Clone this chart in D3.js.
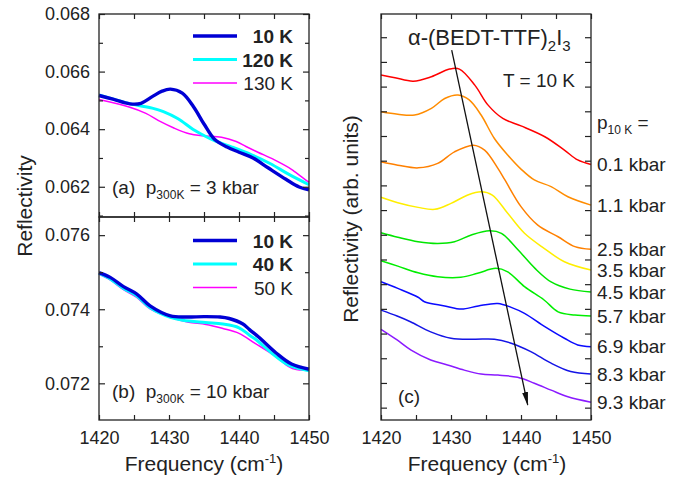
<!DOCTYPE html>
<html>
<head>
<meta charset="utf-8">
<script src="https://cdn.jsdelivr.net/npm/d3@7"></script>
<style>
  body { margin: 0; background: #fff; }
  svg text { font-family: "Liberation Sans", Arial, sans-serif; fill: #222; }
</style>
</head>
<body>
<div id="viz"></div>
<script>
const width = 685;
const height = 480;

// Frequency range shared by all panels (cm-1)
const freqDomain = [1420, 1450];
const freqTicks = [1420, 1425, 1430, 1435, 1440, 1445, 1450];

// Panel (a): p300K = 3 kbar
const aTicks = [0.062, 0.064, 0.066, 0.068];
const aMinor = [0.061, 0.063, 0.065, 0.067];
const a10K = [[1420, 0.06517], [1422, 0.06504], [1424.4, 0.06488], [1426, 0.06490], [1427.6, 0.06513], [1429, 0.06532],
  [1430.2, 0.06539], [1431.9, 0.06525], [1433.5, 0.06478], [1435, 0.06418], [1436.5, 0.06365], [1438.3, 0.06338],
  [1440, 0.06320], [1442, 0.06300], [1444.2, 0.06265], [1446.7, 0.06226], [1448.6, 0.06199], [1450, 0.06189]];
const a120K = [[1420, 0.06519], [1424.5, 0.06488], [1427.6, 0.06473], [1429.2, 0.06461], [1431.3, 0.06436],
  [1433.4, 0.06400], [1435, 0.06378], [1436.5, 0.06360], [1439, 0.06338], [1441.8, 0.06311], [1444.5, 0.06280],
  [1447.2, 0.06242], [1450, 0.06207]];
const a130K = [[1420, 0.06503], [1424.3, 0.06477], [1426.7, 0.06455], [1428.8, 0.06426], [1430.7, 0.06404],
  [1432.9, 0.06384], [1434.8, 0.06377], [1437.5, 0.06372], [1439.6, 0.06357], [1441, 0.06340], [1442.7, 0.06320],
  [1445, 0.06294], [1447.6, 0.06259], [1450, 0.06215]];

// Panel (b): p300K = 10 kbar
const bTicks = [0.072, 0.074, 0.076];
const bMinor = [0.073, 0.075];
const b10K = [[1420, 0.07499], [1421.6, 0.07486], [1423.5, 0.07461], [1425.4, 0.07441], [1427.3, 0.07409],
  [1430.2, 0.07382], [1432.5, 0.07379], [1435, 0.07380], [1437.3, 0.07379], [1438.6, 0.07375], [1440.5, 0.07361],
  [1441.5, 0.07345], [1442.8, 0.07325], [1445.3, 0.07282], [1447.5, 0.07252], [1450, 0.07238]];
const b40K = [[1420, 0.07497], [1421.6, 0.07482], [1423.5, 0.07456], [1425.4, 0.07436], [1427.3, 0.07404],
  [1430.2, 0.07378], [1432, 0.07370], [1435.2, 0.07364], [1437.7, 0.07360], [1440, 0.07350], [1441.5, 0.07330],
  [1442.5, 0.07317], [1444.7, 0.07281], [1447.1, 0.07249], [1450, 0.07234]];
const b50K = [[1420, 0.07494], [1421.6, 0.07479], [1423.5, 0.07453], [1425.4, 0.07432], [1427.3, 0.07401],
  [1430.5, 0.07376], [1432.8, 0.07365], [1435.3, 0.07359], [1437.7, 0.07348], [1440, 0.07335], [1442.3, 0.07308],
  [1445.3, 0.07272], [1447.1, 0.07245], [1448.2, 0.07237], [1450, 0.07236]];

const legendA = ['10 K', '120 K', '130 K'];
const legendB = ['10 K', '40 K', '50 K'];

// Panel (c): T = 10 K, pressure series (arb. units, offset)
const pressureLabels = ['0.1 kbar', '1.1 kbar', '2.5 kbar', '3.5 kbar', '4.5 kbar', '5.7 kbar', '6.9 kbar', '8.3 kbar', '9.3 kbar'];
const pressureColors = ['#ff0000', '#ff8c00', '#ff8000', '#ffee00', '#00e600', '#00ee00', '#0a0aff', '#1414e6', '#8a1aff'];
const c01 = [[1420, 13.97], [1422, 13.86], [1424.6, 13.72], [1427.2, 13.90], [1429.8, 14.21], [1431.2, 14.21], [1433.4, 13.56],
  [1435.3, 12.75], [1437.4, 12.21], [1440, 11.91], [1443.4, 11.47], [1446.2, 10.93], [1448.1, 10.53], [1450, 10.35]];
const c11 = [[1420, 12.48], [1422.4, 12.38], [1424.8, 12.35], [1427.2, 12.62], [1429.1, 13.02], [1431, 13.16], [1432.6, 12.96],
  [1434.3, 12.35], [1436.2, 11.40], [1438.1, 10.73], [1440, 10.16], [1441.9, 9.72], [1444.3, 9.45], [1446.7, 9.04], [1450, 8.70]];
const c25 = [[1420, 10.46], [1422.4, 10.32], [1425.3, 10.21], [1428.1, 10.39], [1430.5, 10.86], [1433.2, 11.13], [1434.8, 10.93],
  [1436.7, 10.19], [1437.7, 9.72], [1440, 8.64], [1442.4, 7.89], [1445.3, 7.42], [1447.7, 7.02], [1450, 6.91]];
const c35 = [[1420, 9.02], [1422.4, 8.80], [1425.3, 8.61], [1427.7, 8.53], [1430, 8.77], [1432.4, 9.11], [1434.3, 9.24],
  [1435.9, 9.11], [1438.1, 8.37], [1440.5, 7.56], [1443.3, 6.95], [1446.2, 6.41], [1450, 6.07]];
const c45 = [[1420, 7.58], [1422.4, 7.40], [1425.3, 7.22], [1428.1, 7.15], [1430.5, 7.22], [1432.9, 7.49], [1435.5, 7.66],
  [1437.2, 7.56], [1439.6, 6.88], [1442, 6.14], [1444.3, 5.59], [1447, 5.30], [1450, 5.18]];
const c57 = [[1420, 6.45], [1422.4, 6.23], [1425.3, 5.96], [1428.1, 5.80], [1431.4, 5.78], [1433.8, 5.94], [1436.4, 6.14],
  [1438.1, 6.00], [1440.5, 5.40], [1443.3, 4.86], [1445.3, 4.38], [1447.7, 4.25], [1450, 4.21]];
const c69 = [[1420, 5.60], [1422.4, 5.33], [1425.3, 4.97], [1426.2, 4.79], [1429.1, 4.62], [1431.5, 4.49], [1433.9, 4.62],
  [1436.7, 4.72], [1438.6, 4.56], [1440.5, 4.32], [1443.4, 3.78], [1446.2, 3.31], [1448.1, 3.04], [1450, 2.97]];
const c83 = [[1420, 4.45], [1422.3, 4.21], [1424.2, 3.98], [1427.1, 3.57], [1430, 3.31], [1433.3, 3.27], [1436.2, 3.27],
  [1438.6, 3.11], [1441.4, 2.77], [1444.3, 2.30], [1447.1, 1.96], [1450, 1.86]];
const c93 = [[1420, 3.67], [1422.3, 3.24], [1424.3, 2.83], [1427.1, 2.43], [1429.5, 2.23], [1431.9, 2.02], [1434.3, 1.86],
  [1436.7, 1.82], [1439.5, 1.73], [1441.9, 1.49], [1444.3, 1.21], [1446.7, 0.94], [1450, 0.72]];
const cTicks = d3.range(0.5, 16, 1);
const arrowPoints = [[1430.1, 14.98], [1440.96, 0.61]];

const leftColors = ['#0000d4', '#00ffff', '#ff00ff'];
const leftWidths = [3.4, 3, 1.5];

const svg = d3.select('#viz')
  .append('svg')
    .attr('width', width)
    .attr('height', height);

// Long, narrow filled arrowhead
svg.append('defs').append('marker')
    .attr('id', 'arrowhead')
    .attr('viewBox', '0 0 14 6')
    .attr('refX', 13).attr('refY', 3)
    .attr('markerWidth', 14).attr('markerHeight', 6)
    .attr('markerUnits', 'userSpaceOnUse')
    .attr('orient', 'auto')
  .append('path')
    .attr('d', 'M0,0 L14,3 L0,6 Z')
    .attr('fill', '#111');

// Scales
const xLeft = d3.scaleLinear().domain(freqDomain).range([99, 309]);
const yA = d3.scaleLinear().domain([0.06095, 0.068]).range([217, 14]);
const yB = d3.scaleLinear().domain([0.07101, 0.07649]).range([420, 217]);
const xRight = d3.scaleLinear().domain(freqDomain).range([381, 591]);
const yC = d3.scaleLinear().domain([0, 16.44]).range([420, 14]);

const tickFont = '18px';

// Draw inward ticks on all four sides of a panel
const drawFrame = (x, y, majorY, minorY, showXLabels, showYLabels) => {
  const [x0, x1] = x.range();
  const [yb, yt] = y.range();
  const g = svg.append('g');

  const fmtX = d => (showXLabels && d % 10 === 0) ? d : '';
  g.append('g')
      .attr('transform', `translate(0, ${yb})`)
      .style('font-size', tickFont)
    .call(d3.axisBottom(x).tickValues(freqTicks).tickSize(-5).tickPadding(11).tickFormat(fmtX));
  g.append('g')
      .attr('transform', `translate(0, ${yt})`)
    .call(d3.axisTop(x).tickValues(freqTicks).tickSize(-5).tickFormat(''));

  g.append('g')
      .attr('transform', `translate(${x0}, 0)`)
      .style('font-size', tickFont)
    .call(d3.axisLeft(y).tickValues(majorY).tickSize(-6).tickPadding(9)
      .tickFormat(showYLabels ? d3.format('.3f') : () => ''));
  g.append('g')
      .attr('transform', `translate(${x1}, 0)`)
    .call(d3.axisRight(y).tickValues(majorY).tickSize(-6).tickFormat(''));
  if (minorY.length) {
    g.append('g')
        .attr('transform', `translate(${x0}, 0)`)
      .call(d3.axisLeft(y).tickValues(minorY).tickSize(-4).tickFormat(''));
    g.append('g')
        .attr('transform', `translate(${x1}, 0)`)
      .call(d3.axisRight(y).tickValues(minorY).tickSize(-4).tickFormat(''));
  }
  g.selectAll('.domain').remove();
  g.selectAll('.tick line').attr('stroke', '#222').attr('stroke-width', 1.2);
  g.selectAll('.tick text').attr('fill', '#222');

  g.append('rect')
      .attr('x', x0).attr('y', yt)
      .attr('width', x1 - x0).attr('height', yb - yt)
      .attr('fill', 'none')
      .attr('stroke', '#222')
      .attr('stroke-width', 1.3);
};

const drawLines = (x, y, series, colors, widths) => {
  const line = d3.line()
    .x(d => x(d[0]))
    .y(d => y(d[1]))
    .curve(d3.curveCatmullRom);
  svg.append('g')
    .selectAll('path')
    .data(series)
    .join('path')
      .attr('d', d => line(d))
      .attr('fill', 'none')
      .attr('stroke', (d, i) => colors[i])
      .attr('stroke-width', (d, i) => widths[i])
      .attr('stroke-linejoin', 'round');
};

const drawLegend = (labels, top) => {
  const g = svg.append('g');
  labels.forEach((label, i) => {
    const yy = top + i * 23.5;
    g.append('line')
        .attr('x1', 193).attr('x2', 237)
        .attr('y1', yy).attr('y2', yy)
        .attr('stroke', leftColors[i])
        .attr('stroke-width', leftWidths[i]);
    g.append('text')
        .attr('x', 293).attr('y', yy + 7)
        .attr('text-anchor', 'end')
        .style('font-size', '19px')
        .style('font-weight', i < 2 ? 700 : 400)
        .text(label);
  });
};

const pressureNote = (tag, value, yy) => {
  const t = svg.append('text')
      .attr('x', 112).attr('y', yy)
      .style('font-size', '19px');
  t.append('tspan').text(tag + '\u00a0\u00a0p');
  t.append('tspan').attr('dy', 5).style('font-size', '12px').text('300K');
  t.append('tspan').attr('dy', -5).text(` = ${value} kbar`);
};

// Panels (a) and (b)
drawLines(xLeft, yA, [a130K, a120K, a10K], [leftColors[2], leftColors[1], leftColors[0]], [leftWidths[2], leftWidths[1], leftWidths[0]]);
drawLines(xLeft, yB, [b50K, b40K, b10K], [leftColors[2], leftColors[1], leftColors[0]], [leftWidths[2], leftWidths[1], leftWidths[0]]);
drawFrame(xLeft, yA, aTicks, aMinor, false, true);
drawFrame(xLeft, yB, bTicks, bMinor, true, true);
drawLegend(legendA, 36);
drawLegend(legendB, 240.5);
pressureNote('(a)', 3, 194);
pressureNote('(b)', 10, 398);

// Panel (c)
const cSeries = [c01, c11, c25, c35, c45, c57, c69, c83, c93];
drawLines(xRight, yC, cSeries, pressureColors, cSeries.map(() => 1.5));
drawFrame(xRight, yC, cTicks, [], true, false);

svg.append('line')
    .attr('x1', xRight(arrowPoints[0][0])).attr('y1', yC(arrowPoints[0][1]))
    .attr('x2', xRight(arrowPoints[1][0])).attr('y2', yC(arrowPoints[1][1]))
    .attr('stroke', '#111')
    .attr('stroke-width', 1.3)
    .attr('marker-end', 'url(#arrowhead)');

const title = svg.append('text')
    .attr('x', 408).attr('y', 45)
    .style('font-size', '22px');
title.append('tspan').text('\u03b1-(BEDT-TTF)');
title.append('tspan').attr('dy', 6).style('font-size', '15px').text('2');
title.append('tspan').attr('dy', -6).text('I');
title.append('tspan').attr('dy', 6).style('font-size', '15px').text('3');

svg.append('text')
    .attr('x', 575).attr('y', 87)
    .attr('text-anchor', 'end')
    .style('font-size', '19px')
    .text('T = 10 K');

svg.append('text')
    .attr('x', 398).attr('y', 403)
    .style('font-size', '19px')
    .text('(c)');

const pLabel = svg.append('text')
    .attr('x', 597).attr('y', 129)
    .style('font-size', '19px');
pLabel.append('tspan').text('p');
pLabel.append('tspan').attr('dy', 5).style('font-size', '12px').text('10 K');
pLabel.append('tspan').attr('dy', -5).text(' =');

svg.append('g')
  .selectAll('text')
  .data(cSeries)
  .join('text')
    .attr('x', 597)
    .attr('y', d => yC(d[d.length - 1][1]))
    .attr('dy', '0.35em')
    .style('font-size', '19px')
    .text((d, i) => pressureLabels[i]);

// Axis titles
const xTitle = (cx) => {
  const t = svg.append('text')
      .attr('x', cx).attr('y', 471)
      .attr('text-anchor', 'middle')
      .style('font-size', '21px');
  t.append('tspan').text('Frequency (cm');
  t.append('tspan').attr('dy', -8).style('font-size', '13px').text('-1');
  t.append('tspan').attr('dy', 8).text(')');
};
xTitle(204);
xTitle(487);

svg.append('text')
    .attr('transform', 'translate(32, 206) rotate(-90)')
    .attr('text-anchor', 'middle')
    .style('font-size', '21px')
    .text('Reflectivity');

svg.append('text')
    .attr('transform', 'translate(358, 219) rotate(-90)')
    .attr('text-anchor', 'middle')
    .style('font-size', '21px')
    .text('Reflectivity (arb. units)');
</script>
</body>
</html>
